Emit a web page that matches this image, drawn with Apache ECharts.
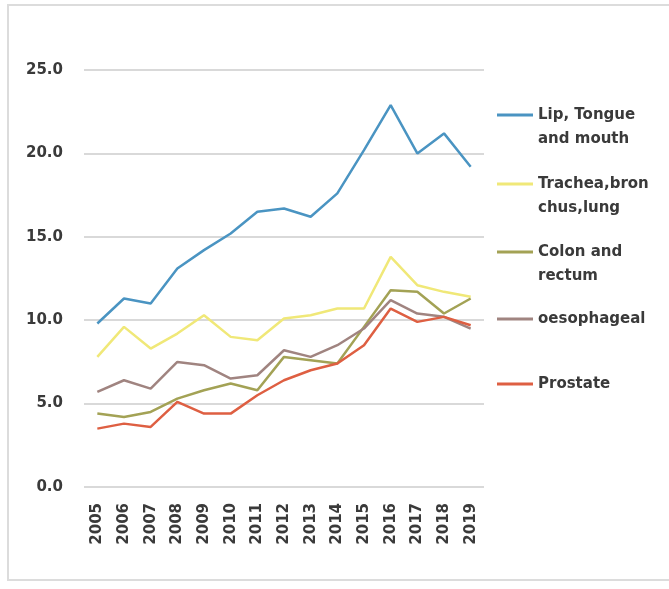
<!DOCTYPE html>
<html>
<head>
<meta charset="utf-8">
<script src="https://cdn.jsdelivr.net/npm/echarts@6/dist/echarts.min.js"></script>
<style>
  html, body { margin: 0; padding: 0; background: #fff; }
  #main { width: 669px; height: 589px; }
</style>
</head>
<body>
<div id="main"></div>
<script>
// data
var years = ['2005', '2006', '2007', '2008', '2009', '2010', '2011', '2012',
  '2013', '2014', '2015', '2016', '2017', '2018', '2019'];
var lipTongueMouth = [9.8, 11.3, 11.0, 13.1, 14.2, 15.2, 16.5, 16.7, 16.2, 17.6, 20.2, 22.9, 20.0, 21.2, 19.2];
var tracheaLung = [7.8, 9.6, 8.3, 9.2, 10.3, 9.0, 8.8, 10.1, 10.3, 10.7, 10.7, 13.8, 12.1, 11.7, 11.4];
var colonRectum = [4.4, 4.2, 4.5, 5.3, 5.8, 6.2, 5.8, 7.8, 7.6, 7.4, 9.6, 11.8, 11.7, 10.4, 11.3];
var oesophageal = [5.7, 6.4, 5.9, 7.5, 7.3, 6.5, 6.7, 8.2, 7.8, 8.5, 9.5, 11.2, 10.4, 10.2, 9.5];
var prostate = [3.5, 3.8, 3.6, 5.1, 4.4, 4.4, 5.5, 6.4, 7.0, 7.4, 8.5, 10.7, 9.9, 10.2, 9.7];

var names = ['Lip, Tongue and mouth', 'Trachea,bronchus,lung', 'Colon and rectum', 'oesophageal', 'Prostate'];
// leading blank line keeps the line sample level with the first text line
var legendText = ['\nLip, Tongue\nand mouth', '\nTrachea,bron\nchus,lung', '\nColon and\nrectum', 'oesophageal', 'Prostate'];
var legendTop = [79, 148, 216, 307, 372];
var colors = ['#4a94c2', '#f0e878', '#a3a255', '#a08480', '#de5f42'];
var values = [lipTongueMouth, tracheaLung, colonRectum, oesophageal, prostate];

var font = 'DejaVu Sans';
var textColor = '#3a3a3a';

var chart = echarts.init(document.getElementById('main'));

var legends = names.map(function (n, i) {
  return {
    data: [n],
    left: 497,
    top: legendTop[i],
    padding: 0,
    icon: 'rect',
    itemWidth: 36,
    itemHeight: 3,
    selectedMode: false,
    formatter: function () { return legendText[i]; },
    textStyle: {
      fontFamily: font,
      fontWeight: 'bold',
      fontSize: 15,
      color: textColor,
      lineHeight: 24
    }
  };
});

var option = {
  animation: false,
  backgroundColor: '#fff',
  color: colors,
  graphic: [{
    type: 'rect',
    shape: { x: 8, y: 5, width: 700, height: 575 },
    style: { fill: 'none', stroke: '#dcdcdc', lineWidth: 2 },
    silent: true
  }],
  legend: legends,
  grid: { left: 84, top: 70, width: 400, height: 417 },
  xAxis: {
    type: 'category',
    data: years,
    boundaryGap: true,
    axisLine: { show: false },
    axisTick: { show: false },
    axisLabel: {
      rotate: 90,
      margin: 16,
      fontFamily: font,
      fontWeight: 'bold',
      fontSize: 15,
      color: textColor
    }
  },
  yAxis: {
    type: 'value',
    min: 0,
    max: 25,
    interval: 5,
    axisLine: { show: false },
    axisTick: { show: false },
    splitLine: { lineStyle: { color: '#d9d9d9', width: 2 } },
    axisLabel: {
      margin: 21,
      fontFamily: font,
      fontWeight: 'bold',
      fontSize: 15,
      color: textColor,
      formatter: function (v) { return v.toFixed(1); }
    }
  },
  series: names.map(function (n, i) {
    return {
      name: n,
      type: 'line',
      data: values[i],
      symbol: 'none',
      lineStyle: { width: 2.5, color: colors[i] }
    };
  })
};

chart.setOption(option);
</script>
</body>
</html>
